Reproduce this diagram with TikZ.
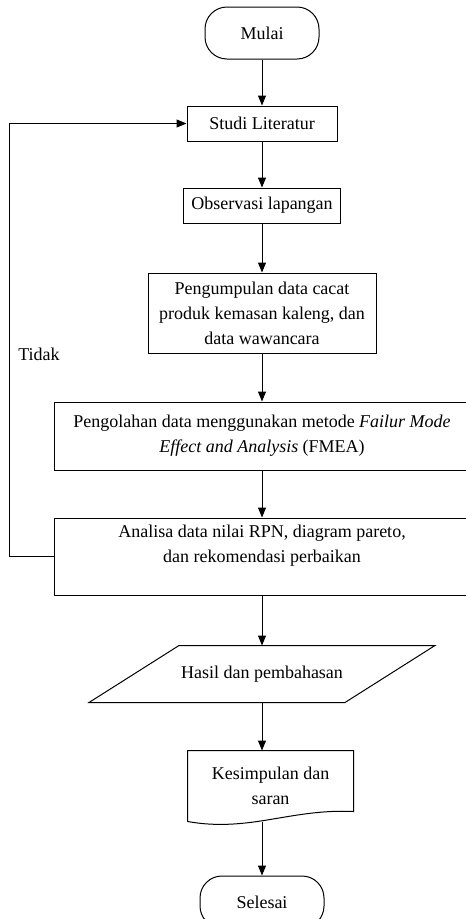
\documentclass[tikz,border=0pt]{standalone}
\usepackage{fontspec}
\setmainfont{Liberation Serif}
\usetikzlibrary{positioning,calc,arrows.meta}
\newcommand{\flowFont}{\fontsize{18}{25}\selectfont}
\newcommand{\flowLine}{1pt}

\begin{document}
\begin{tikzpicture}[x=1pt, y=-1pt, line width=\flowLine,
	every node/.style={font=\flowFont, align=center},
	terminal/.style={draw, rounded corners=22pt, minimum width=114pt, minimum height=52pt},
	proc/.style={draw, inner sep=0pt},
	arr/.style={-{Triangle[length=10pt,width=8pt]}}]
	\useasboundingbox (0,0) rectangle (466,919);

	\node[terminal] (mulai) at (262,33) {Mulai};
	\node[proc, minimum width=150pt, minimum height=35pt] (studi) at (262,123.5) {Studi Literatur};
	\node[proc, minimum width=157pt, minimum height=35pt] (obs) at (262,205.5) {Observasi lapangan};
	\node[proc, minimum width=228pt, minimum height=80pt] (kumpul) at (262,313)
		{Pengumpulan data cacat\\ produk kemasan kaleng, dan\\ data wawancara};
	\node[proc, minimum width=416pt, minimum height=68pt] (olah) at (262,436)
		{Pengolahan data menggunakan metode \textit{Failur Mode}\\ \textit{Effect and Analysis} (FMEA)};
	\node[proc, minimum width=416pt, minimum height=77pt] (analisa) at (262,556.5) {};
	\node[yshift=11pt] (analisaTxt) at (analisa) {Analisa data nilai RPN, diagram pareto,\\ dan rekomendasi perbaikan};

	% input/output
	\node[inner sep=0pt, minimum width=255pt, minimum height=56pt] (hasil) at (262,674) {Hasil dan pembahasan};
	\draw ($(hasil.north west)+(45,0)$) -- ($(hasil.north east)+(45,0)$)
		-- ($(hasil.south east)+(-45,0)$) -- ($(hasil.south west)+(-45,0)$) -- cycle;

	% document
	\node[inner sep=0pt, minimum width=165pt, minimum height=70pt] (kes) at (270.5,786) {Kesimpulan dan\\ saran};
	\draw (kes.south west) -- (kes.north west) -- (kes.north east) -- ($(kes.south east)+(0,-10)$)
		.. controls ($(kes.south east)+(-63,-13)$) and ($(kes.south west)+(62,11)$) .. (kes.south west);

	\node[terminal, minimum width=124pt] (selesai) at (262,902) {Selesai};

	\draw[arr] (mulai) -- (studi);
	\draw[arr] (studi) -- (obs);
	\draw[arr] (obs) -- (kumpul);
	\draw[arr] (kumpul) -- (olah);
	\draw[arr] (olah) -- (analisa);
	\draw[arr] (analisa) -- (hasil);
	\draw[arr] (hasil) -- (hasil |- kes.north);
	\draw[arr] (kes.south -| selesai) -- (selesai);
	\draw[arr] (analisa.west) -- ++(-44,0) |- (studi.west);
	\node (tidak) at (39,354) {Tidak};
\end{tikzpicture}
\end{document}
